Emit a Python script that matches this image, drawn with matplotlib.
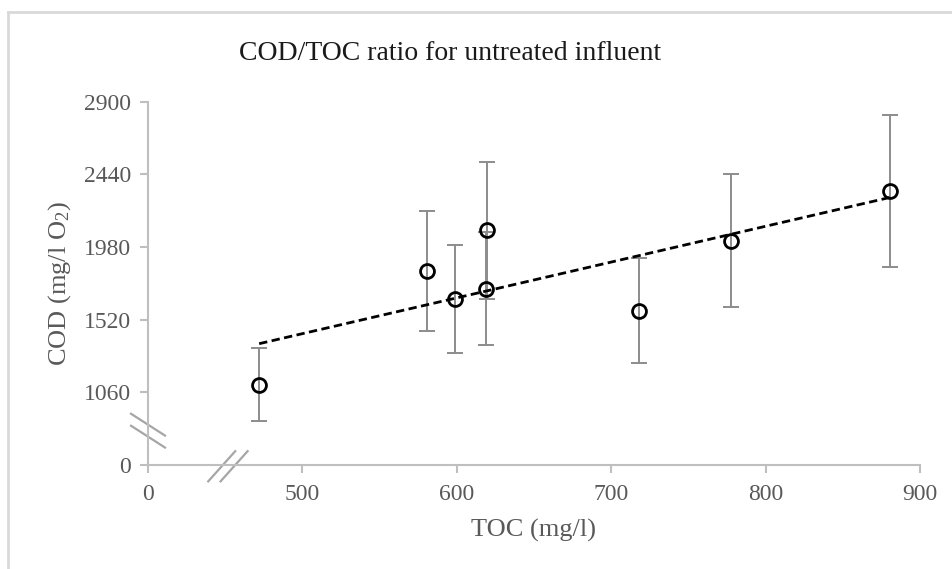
import numpy as np
import matplotlib
matplotlib.use("Agg")
import matplotlib.pyplot as plt
from matplotlib.lines import Line2D
from matplotlib.ticker import NullLocator

plt.rcParams['font.family'] = ['Liberation Serif', 'DejaVu Serif']
plt.rcParams['mathtext.fontset'] = 'custom'
plt.rcParams['mathtext.rm'] = 'Liberation Serif'
plt.rcParams['mathtext.it'] = 'Liberation Serif:italic'

# Measurements
toc = [472, 580.5, 598.6, 618.9, 619.7, 718.1, 777.5, 880.8]
cod = [1109, 1827, 1648, 1716, 2085, 1577, 2020, 2334]
cod_err = [230, 380, 342, 359, 432, 332, 419, 482]

# Axes start above zero; the first tick is labelled "0" and marked with a break
x_tick_pos = [400, 500, 600, 700, 800, 900]
x_tick_labels = ["0", "500", "600", "700", "800", "900"]
y_tick_pos = [600, 1060, 1520, 1980, 2440, 2900]
y_tick_labels = ["0", "1060", "1520", "1980", "2440", "2900"]

title = "COD/TOC ratio for untreated influent"
x_label = "TOC (mg/l)"
y_label = "COD (mg/l O$_2$)"

W, H = 953, 569
fig = plt.figure(figsize=(W / 100, H / 100), dpi=100)
ax = fig.add_axes([148 / W, 1 - 465 / H, (920 - 148) / W, (465 - 101.5) / H])

ax.set_xlim(x_tick_pos[0], x_tick_pos[-1])
ax.set_ylim(y_tick_pos[0], y_tick_pos[-1])

grey_axis = '#bfbfbf'
grey_text = '#595959'

# Linear trend line over the measured range
slope, intercept = np.polyfit(toc, cod, 1)
xt = np.array([min(toc), max(toc)])
ax.plot(xt, slope * xt + intercept, color='black', lw=2.0,
        linestyle=(0, (3.0, 1.6)), zorder=3)

ax.errorbar(toc, cod, yerr=cod_err, fmt='none', ecolor='#8c8c8c',
            elinewidth=1.4, capsize=6, capthick=1.4, zorder=2)
ax.plot(toc, cod, linestyle='none', marker='o', markersize=10,
        markerfacecolor='none', markeredgecolor='black', markeredgewidth=2.0,
        zorder=4)

ax.set_xticks(x_tick_pos)
ax.set_yticks(y_tick_pos)
ax.set_xticklabels(x_tick_labels)
ax.set_yticklabels(y_tick_labels)
ax.xaxis.set_minor_locator(NullLocator())
ax.yaxis.set_minor_locator(NullLocator())

for side in ('top', 'right'):
    ax.spines[side].set_visible(False)
for side in ('left', 'bottom'):
    ax.spines[side].set_color(grey_axis)
    ax.spines[side].set_linewidth(1.5)
ax.tick_params(axis='both', direction='out', length=6, width=1.5,
               color=grey_axis, labelcolor=grey_text, labelsize=17)
ax.tick_params(axis='x', pad=8)
ax.tick_params(axis='y', pad=6)

ax.set_xlabel(x_label, fontsize=19, color=grey_text, labelpad=10)
ax.set_ylabel(y_label, fontsize=19, color=grey_text, labelpad=8)

fig.text(450 / W, 1 - 54 / H, title, ha='center', va='center',
         fontsize=20, color='#1a1a1a')

# Break symbols on both axes (axes-fraction coordinates)
brk = dict(color='#a6a6a6', lw=1.6, transform=ax.transAxes, clip_on=False)
for dy in (0.0, -0.033):
    ax.plot([-0.022, 0.022], [0.141 + dy, 0.081 + dy], **brk)
for dx in (0.0, 0.016):
    ax.plot([0.078 + dx, 0.113 + dx], [-0.045, 0.038], **brk)

# Chart frame edges
frame = '#d9d9d9'
fig.add_artist(Line2D([8 / W, 1], [1 - 12 / H, 1 - 12 / H], color=frame, lw=2,
                      transform=fig.transFigure))
fig.add_artist(Line2D([8 / W, 8 / W], [0, 1 - 12 / H], color=frame, lw=2,
                      transform=fig.transFigure))

fig.savefig('out.png', dpi=100)
